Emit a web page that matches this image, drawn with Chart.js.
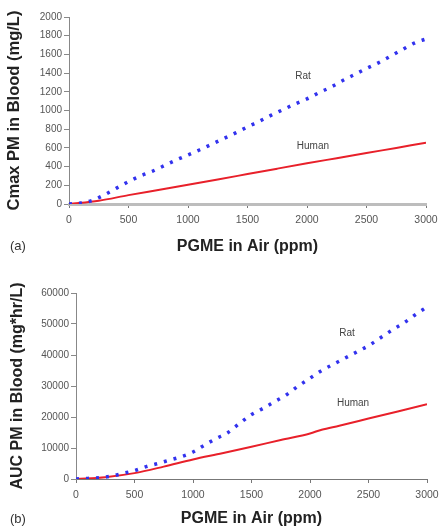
<!DOCTYPE html>
<html>
<head>
<meta charset="utf-8">
<script src="https://cdn.jsdelivr.net/npm/chart.js@4.4.1/dist/chart.umd.min.js"></script>
<style>
  html, body { margin: 0; padding: 0; background: #fff; }
  body { width: 441px; height: 526px; overflow: hidden; position: relative; font-family: "Liberation Sans", Arial, sans-serif; }
  .wrap { position: absolute; left: 0; }
  .panel { position: absolute; font-size: 13px; color: #333; }
</style>
</head>
<body>
<div class="wrap" style="top:0px;width:460px;height:258px;"><canvas id="ca"></canvas></div>
<div class="wrap" style="top:262px;width:460px;height:280px;"><canvas id="cb"></canvas></div>
<div class="panel" style="left:10px;top:238px;">(a)</div>
<div class="panel" style="left:10px;top:511px;">(b)</div>
<script>
// ---------- data ----------
const ppmA = [0,100,200,300,400,500,600,700,800,900,1000,1100,1200,1300,1400,1500,1600,1700,1800,1900,2000,2100,2200,2300,2400,2500,2600,2700,2800,2900,3000];
const ratCmax = [0,10,40,100,170,240,300,350,410,470,525,580,640,700,760,825,885,950,1010,1070,1125,1190,1250,1320,1385,1450,1510,1580,1650,1720,1765];
const ppmHumanA = [0,250,500,750,1000,1250,1500,1750,2000,2250,2500,2750,3000];
const humanCmax = [0,35,95,150,205,262,320,378,435,490,545,600,655];

const ppmB = [0,100,200,300,400,500,600,700,800,900,1000,1100,1200,1300,1400,1500,1600,1700,1800,1900,2000,2100,2200,2300,2400,2500,2600,2700,2800,2900,3000];
const ratAUC = [0,200,400,900,1800,2700,4000,5000,6100,7200,8700,11000,13100,15000,18000,20800,22800,25000,27200,30000,32500,35000,37000,39000,41000,43000,45500,48000,50300,53000,55500];
const ppmHumanB = [0,250,500,750,1000,1250,1500,1750,2000,2100,2250,2500,2750,3000];
const humanAUC = [0,600,1900,4000,6300,8300,10400,12600,14700,15900,17200,19500,21800,24100];

const xTicks = [0,500,1000,1500,2000,2500,3000];
const yTicksA = [0,200,400,600,800,1000,1200,1400,1600,1800,2000];
const yTicksB = [0,10000,20000,30000,40000,50000,60000];

const seriesNames = ['Rat','Human'];
const labelPosA = [[1966,1369],[2050,620]];
const labelPosB = [[2316,47100],[2368,24500]];

// ---------- helpers ----------
const FONT = '"Liberation Sans", Arial, sans-serif';
const BLUE = '#3232ee';
const RED = '#e8202a';
const pts = (xs, ys) => xs.map((x, i) => ({x: x, y: ys[i]}));

const seriesLabels = {
  id: 'seriesLabels',
  afterDatasetsDraw(chart, args, opts) {
    const ctx = chart.ctx;
    const xs = chart.scales.x, ys = chart.scales.y;
    ctx.save();
    ctx.font = opts.size + 'px ' + FONT;
    ctx.fillStyle = '#444';
    ctx.textAlign = 'center';
    ctx.textBaseline = 'middle';
    opts.names.forEach((n, i) => {
      ctx.fillText(n, xs.getPixelForValue(opts.pos[i][0]), ys.getPixelForValue(opts.pos[i][1]));
    });
    ctx.restore();
  }
};

function makeChart(id, cfg) {
  return new Chart(document.getElementById(id), {
    type: 'line',
    data: {
      datasets: [
        { label: 'Rat', data: cfg.rat, borderColor: BLUE, borderWidth: 3.5, borderDash: [3, 7], pointRadius: 0, fill: false, tension: 0.3, cubicInterpolationMode: 'monotone' },
        { label: 'Human', data: cfg.human, borderColor: RED, borderWidth: 2, pointRadius: 0, fill: false, tension: 0.3, cubicInterpolationMode: 'monotone' }
      ]
    },
    options: {
      responsive: true,
      maintainAspectRatio: false,
      animation: false,
      events: [],
      layout: { padding: cfg.padding },
      plugins: {
        legend: { display: false },
        tooltip: { enabled: false },
        seriesLabels: { names: seriesNames, pos: cfg.labelPos, size: 10 }
      },
      scales: {
        x: {
          type: 'linear', min: 0, max: 3000,
          afterBuildTicks: (s) => { s.ticks = xTicks.map(v => ({value: v})); },
          afterFit: (s) => { s.height = cfg.xHeight; },
          border: { color: cfg.xAxisColor, width: cfg.xAxisWidth },
          grid: { display: true, drawOnChartArea: false, drawTicks: true, tickLength: 4, color: '#777', lineWidth: 1 },
          ticks: { color: '#555', font: { family: FONT, size: 10.5 }, padding: cfg.xTickPad, maxRotation: 0, autoSkip: false, callback: (v) => String(v) },
          title: { display: true, text: 'PGME in Air (ppm)', color: '#222', font: { family: FONT, size: 16, weight: 'bold' }, padding: { top: 0, bottom: cfg.xTitlePad } }
        },
        y: {
          type: 'linear', min: 0, max: cfg.yMax,
          afterBuildTicks: (s) => { s.ticks = cfg.yTicks.map(v => ({value: v})); },
          afterFit: (s) => { s.width = cfg.yWidth; },
          border: { color: '#888', width: 1 },
          grid: { display: true, drawOnChartArea: false, drawTicks: true, tickLength: 5, color: '#888', lineWidth: 1 },
          ticks: { color: '#555', font: { family: FONT, size: 10 }, padding: 2, autoSkip: false, callback: (v) => String(v) },
          title: { display: true, text: cfg.yTitle, color: '#222', font: { family: FONT, size: cfg.yTitleSize, weight: 'bold' }, padding: { top: cfg.yTitlePad, bottom: 0 } }
        }
      }
    },
    plugins: [seriesLabels]
  });
}

makeChart('ca', {
  rat: pts(ppmA, ratCmax), human: pts(ppmHumanA, humanCmax),
  padding: { left: 0, top: 17, right: 34, bottom: 0 },
  xHeight: 54, yWidth: 69, yMax: 2000, yTicks: yTicksA,
  xAxisColor: '#bdbdbd', xAxisWidth: 3, xTickPad: 6, xTitlePad: 2,
  yTitle: 'Cmax PM in Blood (mg/L)', yTitleSize: 16.5, yTitlePad: 5,
  labelPos: labelPosA
});
makeChart('cb', {
  rat: pts(ppmB, ratAUC), human: pts(ppmHumanB, humanAUC),
  padding: { left: 0, top: 31, right: 33, bottom: 0 },
  xHeight: 63, yWidth: 76, yMax: 60000, yTicks: yTicksB,
  xAxisColor: '#777', xAxisWidth: 1, xTickPad: 6, xTitlePad: 14,
  yTitle: 'AUC PM in Blood (mg*hr/L)', yTitleSize: 16, yTitlePad: 8,
  labelPos: labelPosB
});
</script>
</body>
</html>
